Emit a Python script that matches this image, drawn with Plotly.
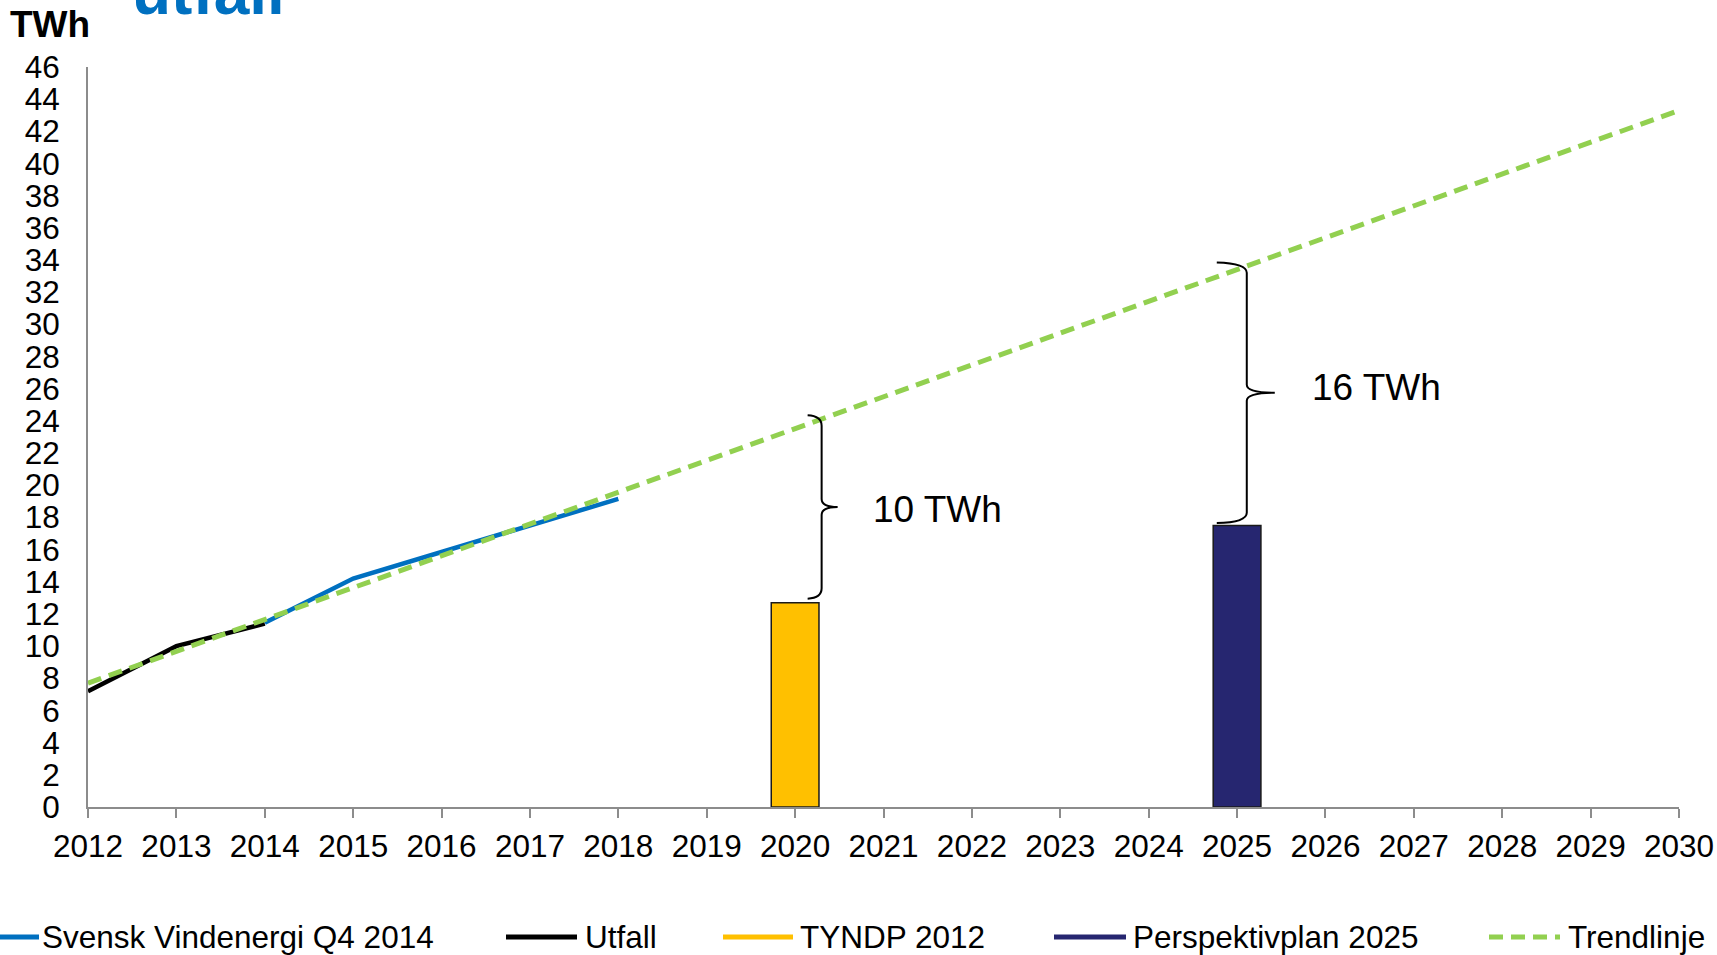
import plotly.graph_objects as go

# ---------------- data ----------------
years_utfall = [2012, 2013, 2014]
utfall = [7.2, 10.0, 11.4]

years_sv = [2014, 2015, 2016, 2017, 2018]
svensk_vind = [11.45, 14.2, 15.85, 17.5, 19.15]

years_trend = [2012, 2030]
trend = [7.7, 43.3]

bar_years = [2020, 2025]
bar_values = [12.7, 17.5]
bar_names = ["TYNDP 2012", "Perspektivplan 2025"]

x_ticks = list(range(2012, 2031))
y_ticks = list(range(0, 47, 2))

# brace annotations: (x, y_bottom, y_top, label)
braces = [(2020.3, 13.1, 24.2, "10 TWh"), (2025.11, 17.8, 33.7, "16 TWh")]
brace_label_pos = [(2020.86, 18.5), (2025.83, 26.05)]

# ---------------- style ----------------
BLUE = "#0070C0"
BLACK = "#000000"
YELLOW = "#FFC000"
NAVY = "#262670"
GREEN = "#92D050"
FONT = "Liberation Sans, Arial, sans-serif"

W, H = 1717, 955
L, R, T, B = 88, 38, 67, 148
PW, PH = W - L - R, H - T - B


def px2paper_x(px):
    return (px - L) / PW


def px2paper_y(py):
    return (H - B - py) / PH


fig = go.Figure()

fig.add_trace(go.Bar(x=[bar_years[0]], y=[bar_values[0]], name=bar_names[0], width=0.54,
                     marker=dict(color=YELLOW, line=dict(color="#1a1a1a", width=1.5)),
                     showlegend=False))
fig.add_trace(go.Bar(x=[bar_years[1]], y=[bar_values[1]], name=bar_names[1], width=0.54,
                     marker=dict(color=NAVY, line=dict(color="#1a1a1a", width=1.5)),
                     showlegend=False))
fig.add_trace(go.Scatter(x=years_utfall, y=utfall, mode="lines", name="Utfall",
                         line=dict(color=BLACK, width=4.5), showlegend=False))
fig.add_trace(go.Scatter(x=years_sv, y=svensk_vind, mode="lines", name="Svensk Vindenergi Q4 2014",
                         line=dict(color=BLUE, width=4.5), showlegend=False))
fig.add_trace(go.Scatter(x=years_trend, y=trend, mode="lines", name="Trendlinje",
                         line=dict(color=GREEN, width=5, dash="14px,8px"), showlegend=False))

shapes = []
annotations = []

# braces
YPX = PH / 46  # px per TWh
XPX = PW / 18  # px per year
brace_geom = [(14, 16), (30, 28)]  # hook length px, tip length px
for (bx, y0, y1, label), (hook, tip), (lx, ly) in zip(braces, brace_geom, brace_label_pos):
    h = hook / XPX
    p = tip / XPX
    r = 8 / YPX
    m = (y0 + y1) / 2
    path = (f"M {bx - h},{y1 + 0.15} Q {bx},{y1 + 0.1} {bx},{y1 - r} "
            f"L {bx},{m + r} Q {bx},{m} {bx + p},{m} "
            f"Q {bx},{m} {bx},{m - r} L {bx},{y0 + r} "
            f"Q {bx},{y0 - 0.1} {bx - h},{y0 - 0.15}")
    shapes.append(dict(type="path", xref="x", yref="y", path=path,
                       line=dict(color="black", width=2)))
    annotations.append(dict(x=lx, y=ly, xref="x", yref="y", text=label, showarrow=False,
                            xanchor="left", yanchor="middle",
                            font=dict(family=FONT, size=37, color="black")))

# manual legend (pixel positions)
legend_items = [
    (0, 39, 40, "Svensk Vindenergi Q4 2014", BLUE, None),
    (506, 577, 583, "Utfall", BLACK, None),
    (723, 793, 798, "TYNDP 2012", YELLOW, None),
    (1054, 1126, 1131, "Perspektivplan 2025", NAVY, None),
    (1489, 1560, 1566, "Trendlinje", GREEN, "14px,8px"),
]
LEG_Y = 937
for x0, x1, tx, text, col, dash in legend_items:
    ln = dict(color=col, width=5)
    if dash:
        ln["dash"] = dash
    shapes.append(dict(type="line", xref="paper", yref="paper",
                       x0=px2paper_x(x0), x1=px2paper_x(x1),
                       y0=px2paper_y(LEG_Y), y1=px2paper_y(LEG_Y), line=ln))
    annotations.append(dict(x=px2paper_x(tx), y=px2paper_y(LEG_Y), xref="paper", yref="paper",
                            text=text, showarrow=False, xanchor="left", yanchor="middle",
                            font=dict(family=FONT, size=31.5, color="black")))

# axis unit and title fragment
annotations.append(dict(x=px2paper_x(8), y=px2paper_y(25), xref="paper", yref="paper",
                        text="<b>TWh</b>", showarrow=False, xanchor="left", yanchor="middle",
                        font=dict(family=FONT, size=37, color="black")))
annotations.append(dict(x=px2paper_x(130), y=px2paper_y(-8), xref="paper", yref="paper",
                        text="<b>utfall</b>", showarrow=False, xanchor="left", yanchor="middle",
                        font=dict(family=FONT, size=64, color=BLUE)))

fig.update_layout(
    width=W, height=H,
    margin=dict(l=L, r=R, t=T, b=B, pad=0, autoexpand=False),
    paper_bgcolor="white", plot_bgcolor="white",
    font=dict(family=FONT, size=31, color="black"),
    shapes=shapes, annotations=annotations,
    barmode="overlay",
    xaxis=dict(range=[2012, 2030], tickvals=x_ticks, ticktext=[str(v) for v in x_ticks],
               automargin=False,
               showgrid=False, zeroline=False, showline=True, linecolor="#8c8c8c", linewidth=2,
               ticks="outside", ticklen=9, tickwidth=2, tickcolor="#8c8c8c",
               tickfont=dict(family=FONT, size=31.5, color="black"), ticklabelstandoff=1),
    yaxis=dict(range=[0, 46], tickvals=y_ticks, showgrid=False, zeroline=False, automargin=False,
               showline=True, linecolor="#8c8c8c", linewidth=2, ticks="",
               tickfont=dict(family=FONT, size=31.5, color="black"), ticklabelstandoff=20),
)

fig.write_html("out.html", config={"displayModeBar": False},
               post_script="document.body.style.margin='0';document.body.style.overflow='hidden';")
